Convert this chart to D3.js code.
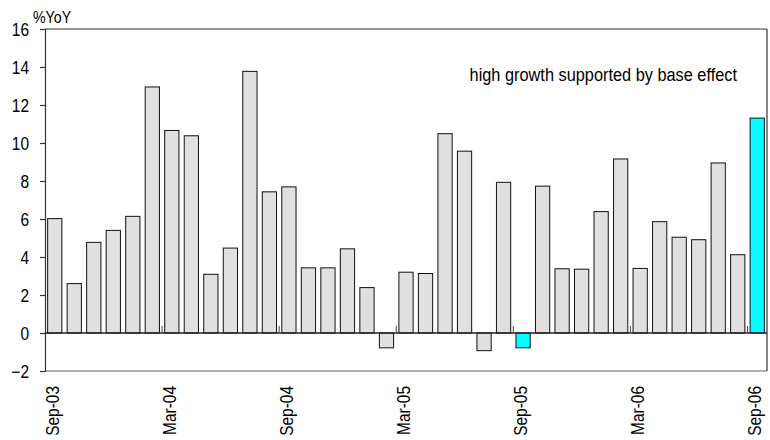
<!DOCTYPE html>
<html>
<head>
<meta charset="utf-8">
<script src="https://cdn.jsdelivr.net/npm/d3@7"></script>
<style>
  body { margin: 0; background: #fff; }
  text { font-family: "Liberation Sans", Arial, Helvetica, sans-serif; fill: #000; }
</style>
</head>
<body>
<svg id="chart" width="770" height="440"></svg>
<script>
const months = ["Sep-03","Oct-03","Nov-03","Dec-03","Jan-04","Feb-04","Mar-04","Apr-04","May-04","Jun-04","Jul-04","Aug-04",
  "Sep-04","Oct-04","Nov-04","Dec-04","Jan-05","Feb-05","Mar-05","Apr-05","May-05","Jun-05","Jul-05","Aug-05",
  "Sep-05","Oct-05","Nov-05","Dec-05","Jan-06","Feb-06","Mar-06","Apr-06","May-06","Jun-06","Jul-06","Aug-06","Sep-06"];
const values = [6.02, 2.6, 4.77, 5.4, 6.14, 12.95, 10.66, 10.38, 3.09, 4.47, 13.77, 7.43,
  7.69, 3.43, 3.43, 4.43, 2.39, -0.78, 3.2, 3.13, 10.49, 9.57, -0.93, 7.93,
  -0.78, 7.73, 3.38, 3.36, 6.39, 9.16, 3.4, 5.86, 5.04, 4.91, 8.95, 4.12, 11.31];
const highlighted = ["Sep-05", "Sep-06"];
const labelMonths = ["Sep-03","Mar-04","Sep-04","Mar-05","Sep-05","Mar-06","Sep-06"];
const yTicks = [-2, 0, 2, 4, 6, 8, 10, 12, 14, 16];
const yTitle = "%YoY";
const note = "high growth supported by base effect";

const NARROW = 0.86;
const svg = d3.select("#chart");
const m = { left: 45, right: 3, top: 29, bottom: 69 };
const W = 770, H = 440;

const x = d3.scaleBand().domain(months).range([m.left, W - m.right]).paddingInner(0.27).paddingOuter(0.135);
const y = d3.scaleLinear().domain([-2, 16]).range([H - m.bottom, m.top]);

const frame = "#333";

// frame
svg.append("line").attr("x1", m.left).attr("x2", W - m.right).attr("y1", y(16)).attr("y2", y(16)).attr("stroke", frame).attr("stroke-width", 1.2);
svg.append("line").attr("x1", W - m.right).attr("x2", W - m.right).attr("y1", y(16)).attr("y2", y(-2)).attr("stroke", frame).attr("stroke-width", 1.2);
svg.append("line").attr("x1", m.left).attr("x2", W - m.right).attr("y1", y(-2)).attr("y2", y(-2)).attr("stroke", "#666").attr("stroke-width", 1.2);

// y axis
const yAxis = d3.axisLeft(y).tickValues(yTicks).tickSize(5).tickPadding(11).tickFormat(d3.format("d"));
const gy = svg.append("g").attr("transform", `translate(${m.left},0)`).call(yAxis);
gy.select(".domain").attr("stroke", frame).attr("stroke-width", 1.2);
gy.selectAll(".tick line").attr("stroke", frame).attr("stroke-width", 1.2);
gy.selectAll(".tick text")
  .style("font-size", "18px").attr("fill", "#000")
  .attr("x", 0).attr("dy", "0.34em")
  .attr("transform", `translate(-16,0) scale(${NARROW},1)`);

// bars
svg.append("g").selectAll("rect").data(months).join("rect")
  .attr("x", d => x(d))
  .attr("width", x.bandwidth())
  .attr("y", (d, i) => y(Math.max(0, values[i])))
  .attr("height", (d, i) => Math.abs(y(values[i]) - y(0)))
  .attr("fill", d => highlighted.includes(d) ? "#00ffff" : "#e0e0e0")
  .attr("stroke", "#111")
  .attr("stroke-width", 1);

// zero line
svg.append("line").attr("x1", m.left).attr("x2", W - m.right).attr("y1", y(0)).attr("y2", y(0)).attr("stroke", "#222").attr("stroke-width", 1.3);

// x ticks at band starts for labelled months
const step = x.step();
svg.append("g").selectAll("line").data(labelMonths.slice(1)).join("line")
  .attr("x1", d => m.left + months.indexOf(d) * step)
  .attr("x2", d => m.left + months.indexOf(d) * step)
  .attr("y1", y(0)).attr("y2", y(0) - 7)
  .attr("stroke", "#444").attr("stroke-width", 1);

// x labels
svg.append("g").selectAll("text").data(labelMonths).join("text")
  .attr("transform", d => `translate(${x(d) + x.bandwidth() / 2 + 4},${y(-2) + 15}) rotate(-90) scale(${NARROW},1)`)
  .attr("text-anchor", "end")
  .style("font-size", "18px")
  .text(d => d);

// titles
svg.append("text").attr("transform", `translate(33,23.3) scale(${NARROW},1)`).style("font-size", "16.5px").text(yTitle);
svg.append("text").attr("transform", `translate(737,80.7) scale(${NARROW},1)`).attr("text-anchor", "end").style("font-size", "19px").text(note);
</script>
</body>
</html>
